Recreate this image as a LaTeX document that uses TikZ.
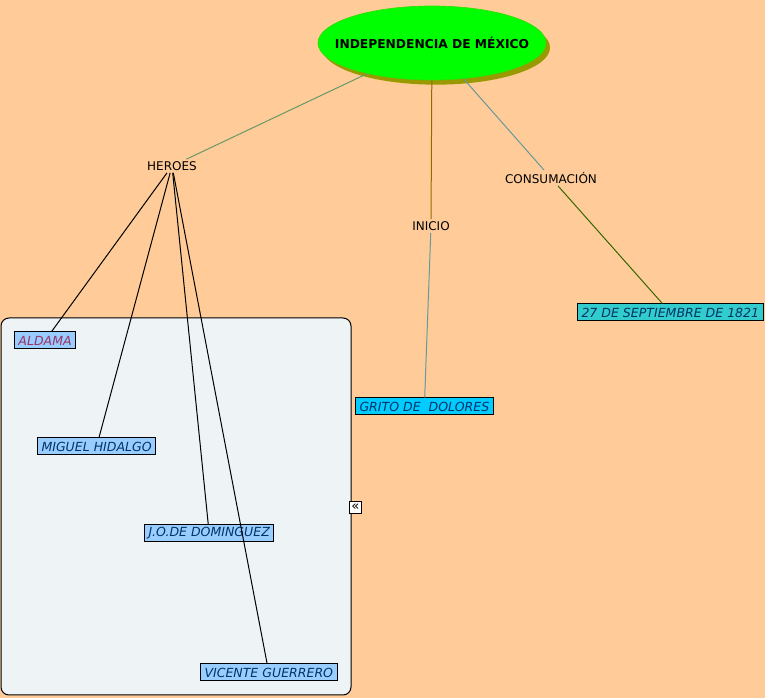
\documentclass[tikz,border=0pt]{standalone}
\usepackage{fontspec}
\setmainfont{DejaVu Sans}
\usetikzlibrary{shapes.geometric,shadows}
\definecolor{bg}{HTML}{FFCC99}
\definecolor{panelc}{HTML}{EEF4F6}
\definecolor{mainc}{HTML}{00FF00}
\definecolor{mainb}{HTML}{33DD00}
\definecolor{shadowc}{HTML}{999900}
\definecolor{lightblue}{HTML}{99CCFF}
\definecolor{cyanbox}{HTML}{00CCFF}
\definecolor{tealbox}{HTML}{33CCCC}
\definecolor{navytxt}{HTML}{003366}
\definecolor{redtxt}{HTML}{993366}
\definecolor{lgreen}{HTML}{669966}
\definecolor{lolive}{HTML}{996600}
\definecolor{lgrey}{HTML}{669999}
\definecolor{ldgreen}{HTML}{336600}
\begin{document}
\begin{tikzpicture}[x=0.75pt,y=-0.75pt,
  label/.style={font=\fontsize{9pt}{10pt}\selectfont, text=black, inner sep=1.5pt},
  leaf/.style={draw=black, line width=0.75pt, font=\fontsize{9.4pt}{10pt}\selectfont\itshape,
    text=navytxt, inner xsep=3pt, inner ysep=0pt, minimum height=12.75pt, anchor=west},
  link/.style={line width=0.75pt}]
\fill[bg] (0,0) rectangle (765,698);
\useasboundingbox (0,0) rectangle (765,698);
\draw[fill=panelc, line width=0.75pt, rounded corners=6pt] (1,318) rectangle (351,695);

\node[ellipse, fill=mainc, draw=mainb, line width=0.5pt, minimum width=171pt, minimum height=55.5pt,
  font=\fontsize{9.2pt}{10pt}\selectfont\bfseries, inner xsep=-14pt, inner ysep=0pt,
  drop shadow={shadow xshift=3pt, shadow yshift=-3.5pt, fill=shadowc, opacity=1}] (main) at (432,43) {INDEPENDENCIA DE MÉXICO};

\node[label] (heroes) at (172,166) {HEROES};
\node[label] (inicio) at (431,226) {INICIO};
\node[label] (consum) at (551,178) {CONSUMACIÓN};

\node[leaf, fill=lightblue, text=redtxt] (aldama) at (14,340.5) {ALDAMA};
\node[leaf, fill=lightblue] (miguel) at (37,446.5) {MIGUEL HIDALGO};
\node[leaf, fill=lightblue] (jo) at (144,533.5) {J.O.DE DOMINGUEZ};
\node[leaf, fill=lightblue] (vicente) at (200,672.5) {VICENTE GUERRERO};
\node[leaf, fill=cyanbox] (grito) at (355,406.5) {GRITO DE\ \ DOLORES};
\node[leaf, fill=tealbox] (sept) at (577,312.5) {27 DE SEPTIEMBRE DE 1821};

\node[draw=black, fill=white, line width=0.6pt, inner sep=0pt, minimum size=9pt,
  font=\fontsize{10pt}{10pt}\selectfont] (icon) at (355.5,507) {«};

\draw[link, lgreen] (main) -- (heroes);
\draw[link, lolive] (main) -- (inicio);
\draw[link, lgrey] (main) -- (consum);
\draw[link, lgrey] (inicio) -- (grito);
\draw[link, ldgreen] (consum) -- (sept);
\draw[link, black] (heroes) -- (aldama);
\draw[link, black] (heroes) -- (miguel);
\draw[link, black] (heroes) -- (jo);
\draw[link, black] (heroes) -- (vicente);
\end{tikzpicture}
\end{document}
